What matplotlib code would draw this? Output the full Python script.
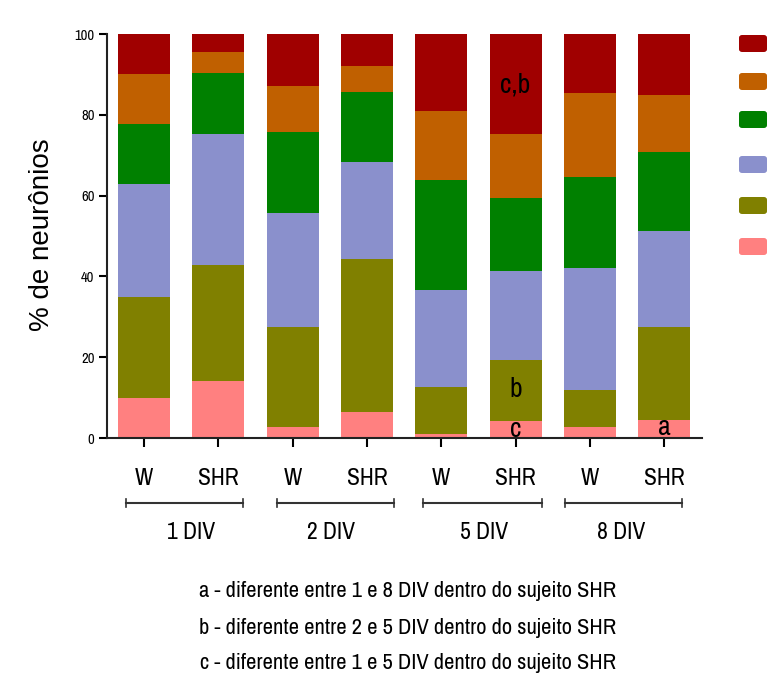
import matplotlib.pyplot as plt
from matplotlib.patches import FancyBboxPatch
import numpy as np

narrow = ['Archivo Narrow', 'Liberation Sans', 'DejaVu Sans']

bar_labels = ['W', 'SHR', 'W', 'SHR', 'W', 'SHR', 'W', 'SHR']
groups = ['1 DIV', '2 DIV', '5 DIV', '8 DIV']

# percentage of neurons per class, bottom to top of each stack
pink = [9.8, 14.1, 2.7, 6.4, 1.1, 4.2, 2.7, 4.5]
olive = [25.1, 28.6, 24.8, 37.9, 11.5, 15.1, 9.3, 23.0]
blue = [28.0, 32.6, 28.2, 24.1, 24.0, 22.1, 30.1, 23.7]
green = [14.8, 15.0, 20.0, 17.2, 27.3, 17.9, 22.4, 19.6]
orange = [12.4, 5.2, 11.5, 6.6, 17.1, 15.9, 20.8, 14.1]
red = [9.9, 4.5, 12.8, 7.8, 19.0, 24.8, 14.7, 15.1]

series = [pink, olive, blue, green, orange, red]
colors = ['#FF8080', '#808000', '#8A90CC', '#008000', '#C06000', '#A00000']

# significance letters: (bar index, height, text)
marks = [(5, 87.4, 'c,b'), (5, 11.9, 'b'), (5, 2.2, 'c'), (7, 2.5, 'a')]

notes = ['a - diferente entre 1 e 8 DIV dentro do sujeito SHR',
         'b - diferente entre 2 e 5 DIV dentro do sujeito SHR',
         'c - diferente entre 1 e 5 DIV dentro do sujeito SHR']

fig = plt.figure(figsize=(7.83, 6.79), dpi=100)
ax = fig.add_axes([107 / 783, 1 - 438 / 679, 595 / 783, 404 / 679])

x = np.arange(len(bar_labels))
bottom = np.zeros(len(x))
for vals, c in zip(series, colors):
    ax.bar(x, vals, width=0.7, bottom=bottom, color=c, edgecolor='none')
    bottom += np.array(vals)

ax.set_xlim(-0.5, 7.51)
ax.set_ylim(0, 100)
for s in ['top', 'right']:
    ax.spines[s].set_visible(False)
for s in ['left', 'bottom']:
    ax.spines[s].set_linewidth(1.5)
    ax.spines[s].set_color('#222222')

ax.set_yticks([0, 20, 40, 60, 80, 100])
ax.set_yticklabels(['0', '20', '40', '60', '80', '100'],
                   family=narrow, fontweight='bold', fontsize=10.5)
ax.tick_params(axis='y', direction='out', length=6, width=1.5, pad=3)

ax.set_xticks(x)
ax.set_xticklabels(bar_labels, family=narrow, fontsize=17)
ax.tick_params(axis='x', direction='out', length=6.5, width=1.5, pad=15)

for i, y, t in marks:
    ax.text(x[i], y, t, ha='center', va='center', fontsize=20, family=narrow)

# group brackets under the x labels
spans = [(-0.25, 1.33), (1.79, 3.36), (3.76, 5.35), (5.66, 7.24)]
label_x = [0.63, 2.51, 4.58, 6.42]
trans = ax.get_xaxis_transform()
for (a, b), lx, g in zip(spans, label_x, groups):
    ax.plot([a, b], [-0.161, -0.161], transform=trans, clip_on=False,
            color='#333333', lw=1.5)
    for e in (a, b):
        ax.plot([e, e], [-0.151, -0.171], transform=trans, clip_on=False,
                color='#333333', lw=1.2)
    ax.text(lx, -0.235, g, transform=trans, ha='center', va='center',
            fontsize=17, family=narrow)

fig.text(42 / 783, 1 - 235 / 679, '% de neurônios', rotation=90,
         ha='center', va='center', fontsize=20, family=['Liberation Sans', 'DejaVu Sans'])

for k, t in enumerate(notes):
    fig.text(408 / 783, [0.130, 0.075, 0.024][k], t, ha='center', va='center',
             fontsize=16.2, family=narrow)

# colour key down the right edge
key_tops = [35, 73, 111, 156, 197, 238]
for top, c in zip(key_tops, colors[::-1]):
    fig.patches.append(FancyBboxPatch((739 / 783, 1 - (top + 17) / 679),
                                      28 / 783, 17 / 679,
                                      boxstyle='round,pad=0,rounding_size=0.004',
                                      transform=fig.transFigure,
                                      facecolor=c, edgecolor='none'))

fig.savefig('out.png', dpi=100)
